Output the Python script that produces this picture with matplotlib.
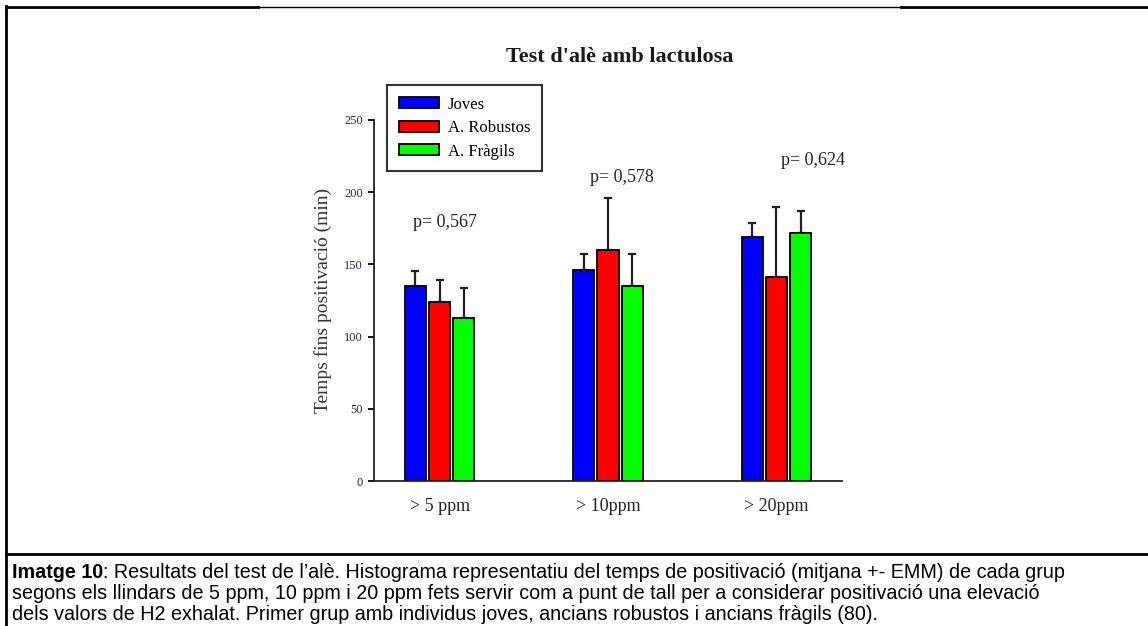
import numpy as np
import matplotlib
matplotlib.use("Agg")
import matplotlib.pyplot as plt
from matplotlib.lines import Line2D

# mean time to positive breath test (min) and upper SEM, per threshold
thresholds = ["> 5 ppm", "> 10ppm", "> 20ppm"]
groups = ["Joves", "A. Robustos", "A. Fràgils"]
colors = ["#0000ff", "#ff0000", "#00ff00"]
means = {
    "Joves": [135, 146, 169],
    "A. Robustos": [124, 160, 141],
    "A. Fràgils": [113, 135, 172],
}
sem = {
    "Joves": [10.5, 11, 10],
    "A. Robustos": [15, 36, 49],
    "A. Fràgils": [20.5, 22, 15],
}
p_values = ["p= 0,567", "p= 0,578", "p= 0,624"]
p_label_y = [179, 210, 222]
p_label_dx = [0.03, 0.08, 0.215]

W, H = 1148, 626
fig = plt.figure(figsize=(W / 100, H / 100), dpi=100)
serif = ["Liberation Serif", "DejaVu Serif"]
sans = ["Liberation Sans", "DejaVu Sans"]


def fx(px):
    return px / W


def fy(py):
    return 1 - py / H


ax = fig.add_axes([fx(374), fy(481), fx(842) - fx(374), fy(120) - fy(481)])

x = np.arange(len(thresholds))
bar_w = 0.125
step = 0.1436
for i, g in enumerate(groups):
    xs = x + (i - 1) * step
    ax.bar(xs, means[g], width=bar_w, color=colors[i], edgecolor="black",
           linewidth=1.3, label=g, zorder=2)
    ax.errorbar(xs, means[g], yerr=[np.zeros(len(x)), sem[g]], fmt="none",
                ecolor="#222222", elinewidth=1.6, capsize=3, capthick=1.6, zorder=1)

for xi, txt, yv, dx in zip(x, p_values, p_label_y, p_label_dx):
    ax.text(xi + dx, yv, txt, ha="center", va="center", fontsize=13,
            family=serif, color="#222222")

ax.set_xlim(-0.39, 2.39)
ax.set_ylim(0, 250)
ax.set_yticks([0, 50, 100, 150, 200, 250])
ax.set_xticks(x)
ax.set_xticklabels(thresholds, family=serif, fontsize=13, color="#222222")
ax.tick_params(axis="x", length=0, pad=12)
ax.tick_params(axis="y", length=4, width=1.3, pad=4, labelsize=9,
               labelcolor="#2b2b3c")
for lab in ax.get_yticklabels():
    lab.set_family(serif)
for s in ["top", "right"]:
    ax.spines[s].set_visible(False)
for s in ["left", "bottom"]:
    ax.spines[s].set_linewidth(1.3)
    ax.spines[s].set_color("#222222")
ax.set_ylabel("Temps fins positivació (min)", family=serif, fontsize=14,
              color="#333333", labelpad=9)

leg = ax.legend(loc="upper left", bbox_to_anchor=(0.028, 1.097), frameon=True,
                fancybox=False, prop={"family": serif, "size": 12},
                handlelength=2.4, handleheight=0.65, handletextpad=0.55,
                labelspacing=0.45, borderpad=0.7, borderaxespad=0)
leg.get_frame().set_edgecolor("black")
leg.get_frame().set_linewidth(1.5)

fig.text(fx(620), fy(57), "Test d'alè amb lactulosa", ha="center", va="center",
         fontsize=16, fontweight="bold", family=serif, color="#1a1a1a")

# page frame around the figure and caption
fig.add_artist(Line2D([fx(6), fx(258)], [fy(7), fy(7)], color="black", lw=2))
fig.add_artist(Line2D([fx(258), fx(901)], [fy(7), fy(7)], color="black", lw=1))
fig.add_artist(Line2D([fx(901), fx(1148)], [fy(7), fy(7)], color="black", lw=2))
fig.add_artist(Line2D([fx(6), fx(6)], [fy(6), fy(626)], color="black", lw=2))
fig.add_artist(Line2D([fx(6), fx(1148)], [fy(554), fy(554)], color="black", lw=2))

caption = [
    "Resultats del test de l’alè. Histograma representatiu del temps de positivació (mitjana +- EMM) de cada grup",
    "segons els llindars de 5 ppm, 10 ppm i 20 ppm fets servir com a punt de tall per a considerar positivació una elevació",
    "dels valors de H2 exhalat. Primer grup amb individus joves, ancians robustos i ancians fràgils (80).",
]
cap_size = 14.2
t = fig.text(fx(12), fy(572), "Imatge 10", ha="left", va="center", fontsize=cap_size,
             fontweight="bold", family=sans)
fig.canvas.draw()
bb = t.get_window_extent()
fig.text(bb.x1 / W, fy(572), ": " + caption[0], ha="left", va="center",
         fontsize=cap_size, family=sans)
fig.text(fx(12), fy(593.5), caption[1], ha="left", va="center", fontsize=cap_size, family=sans)
fig.text(fx(12), fy(615), caption[2], ha="left", va="center", fontsize=cap_size, family=sans)

fig.savefig("out.png", dpi=100)
